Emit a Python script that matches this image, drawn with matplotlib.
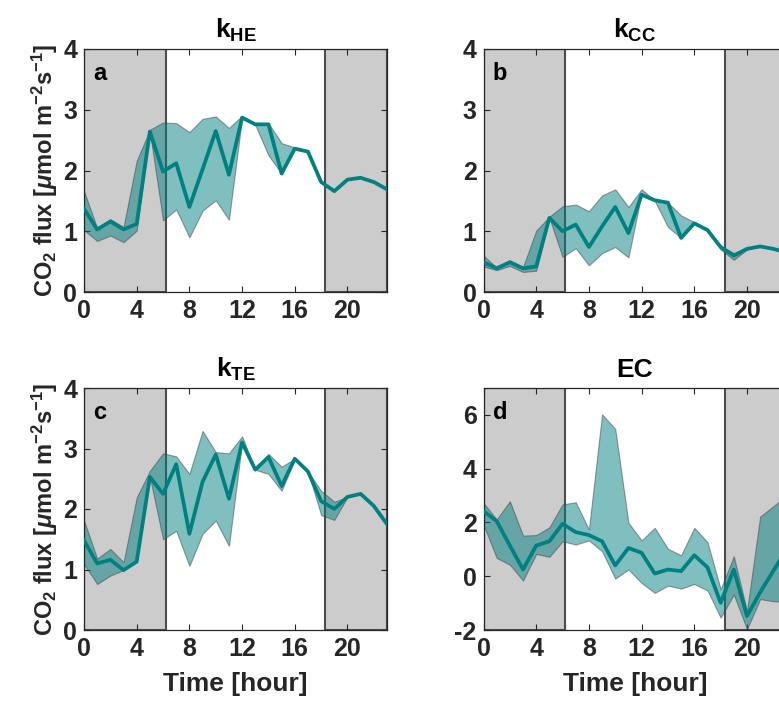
import numpy as np
import matplotlib
matplotlib.use('Agg')
import matplotlib.pyplot as plt
from matplotlib.patches import Rectangle

plt.rcParams['font.family'] = ['Liberation Sans', 'DejaVu Sans']
plt.rcParams['font.weight'] = 'bold'
plt.rcParams['axes.unicode_minus'] = False
plt.rcParams['mathtext.fontset'] = 'custom'
plt.rcParams['mathtext.rm'] = 'Liberation Sans:bold'
plt.rcParams['mathtext.bf'] = 'Liberation Sans:bold'
plt.rcParams['mathtext.it'] = 'Liberation Sans:italic'

hours = np.arange(24)

# k_HE
mean_he = [1.37, 1.03, 1.16, 1.03, 1.12, 2.64, 1.98, 2.12, 1.40, 2.02, 2.65, 1.93,
           2.87, 2.76, 2.76, 1.95, 2.36, 2.31, 1.81, 1.66, 1.85, 1.88, 1.81, 1.69]
upper_he = [1.66, 1.05, 1.20, 1.07, 2.16, 2.67, 2.79, 2.78, 2.63, 2.85, 2.89, 2.70,
            2.90, 2.76, 2.78, 2.45, 2.38, 2.31, 1.81, 1.66, 1.85, 1.88, 1.81, 1.69]
lower_he = [1.02, 0.84, 0.93, 0.82, 1.01, 2.64, 1.18, 1.36, 0.90, 1.34, 1.51, 1.19,
            2.87, 2.75, 2.25, 1.95, 2.36, 2.31, 1.81, 1.66, 1.85, 1.88, 1.81, 1.69]

# k_CC
mean_cc = [0.49, 0.39, 0.49, 0.39, 0.42, 1.22, 1.00, 1.11, 0.74, 1.08, 1.40, 0.97,
           1.60, 1.51, 1.47, 0.89, 1.13, 1.02, 0.74, 0.60, 0.71, 0.75, 0.71, 0.65]
upper_cc = [0.60, 0.40, 0.52, 0.41, 1.01, 1.24, 1.41, 1.44, 1.33, 1.59, 1.69, 1.40,
            1.69, 1.51, 1.47, 1.26, 1.15, 1.02, 0.76, 0.64, 0.71, 0.75, 0.71, 0.65]
lower_cc = [0.42, 0.36, 0.43, 0.33, 0.35, 1.22, 0.58, 0.72, 0.44, 0.64, 0.74, 0.57,
            1.62, 1.50, 1.07, 0.89, 1.13, 1.02, 0.70, 0.53, 0.70, 0.75, 0.71, 0.65]

# k_TE
mean_te = [1.48, 1.10, 1.16, 0.99, 1.13, 2.53, 2.25, 2.74, 1.59, 2.45, 2.90, 2.17,
           3.10, 2.65, 2.86, 2.38, 2.83, 2.62, 2.13, 2.00, 2.20, 2.25, 2.05, 1.75]
upper_te = [1.81, 1.18, 1.34, 1.12, 2.19, 2.63, 2.92, 2.87, 2.58, 3.29, 2.94, 2.92,
            3.20, 2.65, 2.91, 2.70, 2.83, 2.62, 2.30, 2.12, 2.20, 2.25, 2.05, 1.75]
lower_te = [1.09, 0.76, 0.90, 0.99, 1.13, 2.53, 1.50, 1.64, 1.06, 1.59, 1.81, 1.39,
            3.10, 2.65, 2.58, 2.30, 2.83, 2.62, 1.90, 1.82, 2.20, 2.25, 2.05, 1.75]

# EC
mean_ec = [2.42, 2.05, 1.14, 0.25, 1.14, 1.30, 1.95, 1.64, 1.53, 1.30, 0.40, 1.05,
           0.87, 0.10, 0.25, 0.19, 0.78, 0.33, -0.99, 0.25, -1.48, -0.60, 0.20, 1.00]
upper_ec = [2.73, 2.11, 2.79, 1.51, 1.53, 1.82, 2.67, 2.75, 1.74, 6.02, 5.48, 1.99,
            1.33, 1.80, 1.02, 0.78, 1.80, 1.27, -0.48, 0.74, -1.30, 2.22, 2.60, 3.00]
lower_ec = [1.92, 0.68, 0.43, -0.16, 0.83, 0.72, 1.30, 1.18, 1.33, 0.93, -0.09, 0.25,
            -0.25, -0.62, -0.35, -0.46, -0.29, -0.53, -1.54, -0.68, -1.97, -0.85, -0.93, -0.95]

titles = ['k$_\\mathrm{HE}$', 'k$_\\mathrm{CC}$', 'k$_\\mathrm{TE}$', 'EC']
letters = ['a', 'b', 'c', 'd']
means = [mean_he, mean_cc, mean_te, mean_ec]
uppers = [upper_he, upper_cc, upper_te, upper_ec]
lowers = [lower_he, lower_cc, lower_te, lower_ec]
ylims = [(0, 4), (0, 4), (0, 4), (-2, 7)]
yticks = [[0, 1, 2, 3, 4], [0, 1, 2, 3, 4], [0, 1, 2, 3, 4], [-2, 0, 2, 4, 6]]
night = [(0, 6.2), (18.3, 23)]

teal = (0, 0.5, 0.5)
txt = (0.15, 0.15, 0.15)

fig = plt.figure(figsize=(7.79, 7.07), dpi=100)
W, H = 779, 707
boxes = [(84, 49, 303, 243), (483.5, 49, 303, 243),
         (84, 388, 303, 242), (483.5, 388, 303, 242)]

for i in range(4):
    x0, y0, w, h = boxes[i]
    ax = fig.add_axes([x0 / W, 1 - (y0 + h) / H, w / W, h / H])
    lo, hi = ylims[i]
    for a, b in night:
        ax.add_patch(Rectangle((a, lo), b - a, hi - lo, facecolor=(0.8, 0.8, 0.8),
                               edgecolor=(0.3, 0.3, 0.3), lw=1.5, zorder=1))
    ax.fill_between(hours, lowers[i], uppers[i], facecolor=teal, alpha=0.5,
                    edgecolor=(0.25, 0.25, 0.25), lw=0.8, zorder=2)
    ax.plot(hours, means[i], color=teal, lw=2.7, zorder=3)
    ax.set_xlim(0, 23)
    ax.set_ylim(lo, hi)
    ax.set_xticks([0, 4, 8, 12, 16, 20])
    ax.set_yticks(yticks[i])
    ax.tick_params(direction='in', length=4, width=0.8, top=True, right=True,
                   labelsize=18, colors=txt, labelcolor=txt, pad=5)
    for s in ax.spines.values():
        s.set_color(txt)
        s.set_linewidth(0.9)
    ax.set_title(titles[i], fontsize=19, fontweight='bold', pad=8)
    ax.text(0.03, 0.945, letters[i], transform=ax.transAxes, fontsize=17,
            fontweight='bold', va='top', ha='left', zorder=5)
    if i % 2 == 0:
        ax.set_ylabel('CO$_\\mathrm{2}$ flux [$\\mu$mol m$^\\mathrm{-2}$s$^\\mathrm{-1}$]',
                      fontsize=17, fontweight='bold', color=txt, labelpad=2)
    if i >= 2:
        ax.set_xlabel('Time [hour]', fontsize=19, fontweight='bold', color=txt, labelpad=8)

fig.savefig('out.png', dpi=100)
